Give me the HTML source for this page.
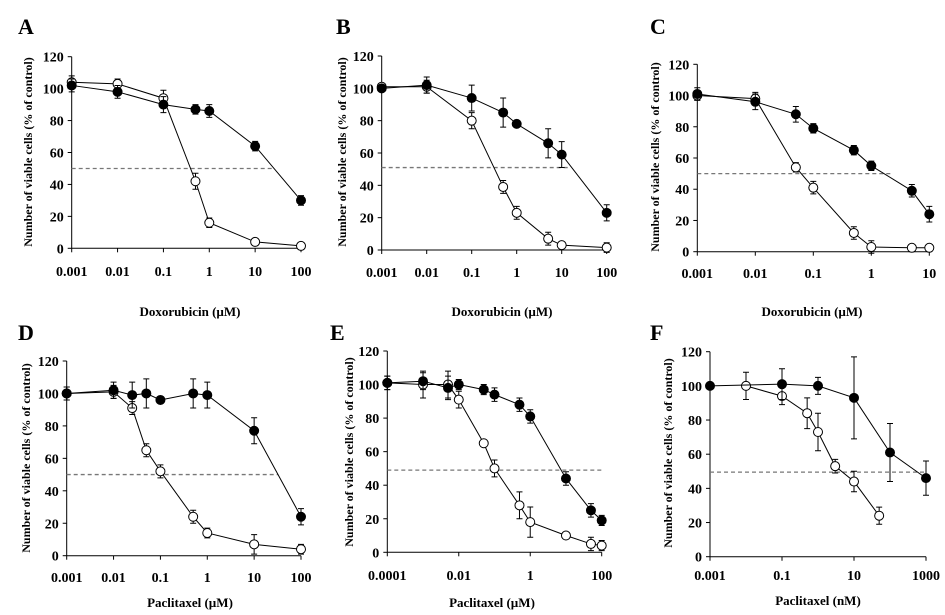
<!DOCTYPE html>
<html><head><meta charset="utf-8">
<style>
html,body{margin:0;padding:0;background:#fff;}
svg{display:block;font-family:"Liberation Serif",serif;font-weight:bold;}
</style></head>
<body>
<svg id="fig" width="945" height="615" viewBox="0 0 945 615" xmlns="http://www.w3.org/2000/svg"></svg>
<script>
// ---- data (top level) ----
const aTicks=["0.001","0.01","0.1","1","10","100"];
const aFilledX=[0.001,0.01,0.1,0.5,1,10,100];
const aFilledY=[102,98,90,87,86,64,30];
const aFilledE=[4,4,5,3,4,3,3];
const aOpenX=[0.001,0.01,0.1,0.5,1,10,100];
const aOpenY=[104,103,94,42,16,4,1.5];
const aOpenE=[4,3,5,5,3,1,1];

const bTicks=["0.001","0.01","0.1","1","10","100"];
const bFilledX=[0.001,0.01,0.1,0.5,1,5,10,100];
const bFilledY=[100,102,94,85,78,66,59,23];
const bFilledE=[2,5,8,9,2,9,8,5];
const bOpenX=[0.001,0.01,0.1,0.5,1,5,10,100];
const bOpenY=[101,101,80,39,23,7,3,1.5];
const bOpenE=[2,4,5,4,4,4,1,3];

const cTicks=["0.001","0.01","0.1","1","10"];
const cFilledX=[0.001,0.01,0.05,0.1,0.5,1,5,10];
const cFilledY=[101,96,88,79,65,55,39,24];
const cFilledE=[4,5,5,3,3,3,4,5];
const cOpenX=[0.001,0.01,0.05,0.1,0.5,1,5,10];
const cOpenY=[100,98,54,41,12,3,2.5,2.5];
const cOpenE=[3,4,3,4,4,4,2,2];

const dTicks=["0.001","0.01","0.1","1","10","100"];
const dFilledX=[0.001,0.01,0.025,0.05,0.1,0.5,1,10,100];
const dFilledY=[100,102,99,100,96,100,99,77,24];
const dFilledE=[4,5,8,9,2,9,8,8,5];
const dOpenX=[0.001,0.01,0.025,0.05,0.1,0.5,1,10,100];
const dOpenY=[100,101,91,65,52,24,14,7,4];
const dOpenE=[4,4,4,4,4,4,3,6,3];

const eTicks=["0.0001","0.01","1","100"];
const eFilledX=[0.0001,0.001,0.005,0.01,0.05,0.1,0.5,1,10,50,100];
const eFilledY=[101,102,98,100,97,94,88,81,44,25,19];
const eFilledE=[4,5,7,3,3,4,4,4,4,4,3];
const eOpenX=[0.0001,0.001,0.005,0.01,0.05,0.1,0.5,1,10,50,100];
const eOpenY=[101,100,100,91,65,50,28,18,10,5,4];
const eOpenE=[4,8,8,5,2,5,8,9,2,4,3];

const fTicks=["0.001","0.1","10","1000"];
const fFilledX=[0.001,0.1,1,10,100,1000];
const fFilledY=[100,101,100,93,61,46];
const fFilledE=[1,9,5,24,17,10];
const fOpenX=[0.01,0.1,0.5,1,3,10,50];
const fOpenY=[100,94,84,73,53,44,24];
const fOpenE=[8,5,9,11,4,6,5];

const yTicks=[0,20,40,60,80,100,120];
const halfLine=[50,51,50,50,49,49.5];
const halfEnd=[25,14,2.3,32,100,1000];

// ---- layout ----
const NS="http://www.w3.org/2000/svg";
const svg=document.getElementById('fig');
function mk(tag,attrs,parent){const e=document.createElementNS(NS,tag);for(const k in attrs)e.setAttribute(k,attrs[k]);(parent||svg).appendChild(e);return e;}

const panels=[
 {L:"A",x0:71.7,x1:301,d0:-3,d1:2,y0:248.3,y1:56.7,lx:18,ly:34,tl:aTicks,fx:aFilledX,fy:aFilledY,fe:aFilledE,ox:aOpenX,oy:aOpenY,oe:aOpenE,tly:276,title:"Doxorubicin (\u00B5M)",ttx:190,tty:316,ytx:28,yty:152},
 {L:"B",x0:381.7,x1:606.7,d0:-3,d1:2,y0:250,y1:56,lx:336,ly:34,tl:bTicks,fx:bFilledX,fy:bFilledY,fe:bFilledE,ox:bOpenX,oy:bOpenY,oe:bOpenE,tly:277,title:"Doxorubicin (\u00B5M)",ttx:502,tty:316,ytx:342,yty:152},
 {L:"C",x0:697.3,x1:929.3,d0:-3,d1:1,y0:251.7,y1:64.3,lx:650,ly:34,tl:cTicks,fx:cFilledX,fy:cFilledY,fe:cFilledE,ox:cOpenX,oy:cOpenY,oe:cOpenE,tly:278,title:"Doxorubicin (\u00B5M)",ttx:812,tty:316,ytx:655,yty:157},
 {L:"D",x0:66.7,x1:301,d0:-3,d1:2,y0:555.7,y1:361,lx:18,ly:340,tl:dTicks,fx:dFilledX,fy:dFilledY,fe:dFilledE,ox:dOpenX,oy:dOpenY,oe:dOpenE,tly:582,title:"Paclitaxel (\u00B5M)",ttx:190,tty:607,ytx:26,yty:458},
 {L:"E",x0:387.3,x1:601.7,d0:-4,d1:2,y0:552.3,y1:351,lx:330,ly:340,tl:eTicks,fx:eFilledX,fy:eFilledY,fe:eFilledE,ox:eOpenX,oy:eOpenY,oe:eOpenE,tly:580,title:"Paclitaxel (\u00B5M)",ttx:492,tty:607,ytx:349,yty:452},
 {L:"F",x0:710,x1:926,d0:-3,d1:3,y0:556.7,y1:351.7,lx:650,ly:340,tl:fTicks,fx:fFilledX,fy:fFilledY,fe:fFilledE,ox:fOpenX,oy:fOpenY,oe:fOpenE,tly:580,title:"Paclitaxel (nM)",ttx:818,tty:605,ytx:668,yty:453}
];

panels.forEach((p,pi)=>{
 const g=mk('g',{});
 
 
 const X=v=>p.x0+(Math.log10(v)-p.d0)/(p.d1-p.d0)*(p.x1-p.x0);
 const Y=v=>p.y0+(v/120)*(p.y1-p.y0);
 const lt=mk('text',{x:p.lx,y:p.ly,'font-size':22},g);lt.textContent=p.L;
 
 
 const ya=mk('line',{x1:p.x0,y1:p.y0,x2:p.x0,y2:p.y1,stroke:'#000','stroke-width':1},g);
 
 
 const xa=mk('line',{x1:p.x0,y1:p.y0,x2:p.x1,y2:p.y0,stroke:'#000','stroke-width':1},g);
 
 
 yTicks.forEach(t=>{
  const yy=Y(t);
  mk('line',{x1:p.x0-4,y1:yy,x2:p.x0,y2:yy,stroke:'#000'},g);
  const tx=mk('text',{x:p.x0-8,y:yy+5,'font-size':14,'text-anchor':'end'},g);tx.textContent=t;
  
  
 });
 p.tl.forEach(t=>{
  const xx=X(parseFloat(t));
  mk('line',{x1:xx,y1:p.y0,x2:xx,y2:p.y0+4,stroke:'#000'},g);
  const tx=mk('text',{x:xx,y:p.tly,'font-size':14,'text-anchor':'middle'},g);tx.textContent=t;
  
  
 });
 const xt=mk('text',{x:p.ttx,y:p.tty,'font-size':13,'text-anchor':'middle'},g);xt.textContent=p.title;
 
 
 const yt=mk('text',{x:0,y:0,'font-size':12,'text-anchor':'middle',transform:`translate(${p.ytx+4},${p.yty}) rotate(-90)`},g);yt.textContent="Number of viable cells (% of control)";
 
 
 const dl=mk('line',{x1:p.x0,y1:Y(halfLine[pi]),x2:X(halfEnd[pi]),y2:Y(halfLine[pi]),stroke:'#777','stroke-width':1.3,'stroke-dasharray':'4,3'},g);
 
 
 function series(xs,ys,es,filled,name){
  const pts=xs.map((v,i)=>X(v)+','+Y(ys[i])).join(' ');
  const pl=mk('polyline',{points:pts,fill:'none',stroke:'#000','stroke-width':1},g);
  
  
  xs.forEach((v,i)=>{
   const cx=X(v),hi=Y(ys[i]+es[i]),lo=Y(ys[i]-es[i]);
   const eb=mk('path',{d:`M${cx},${hi}V${lo}M${cx-3},${hi}H${cx+3}M${cx-3},${lo}H${cx+3}`,stroke:'#000','stroke-width':1,fill:'none'},g);
   
   
  });
  xs.forEach((v,i)=>{
   const c=mk('circle',{cx:X(v),cy:Y(ys[i]),r:4.5,fill:filled?'#000':'#fff',stroke:'#000','stroke-width':1},g);
   
   
  });
 }
 series(p.ox,p.oy,p.oe,false,'open-series');
 series(p.fx,p.fy,p.fe,true,'filled-series');
});
</script>
</body></html>
